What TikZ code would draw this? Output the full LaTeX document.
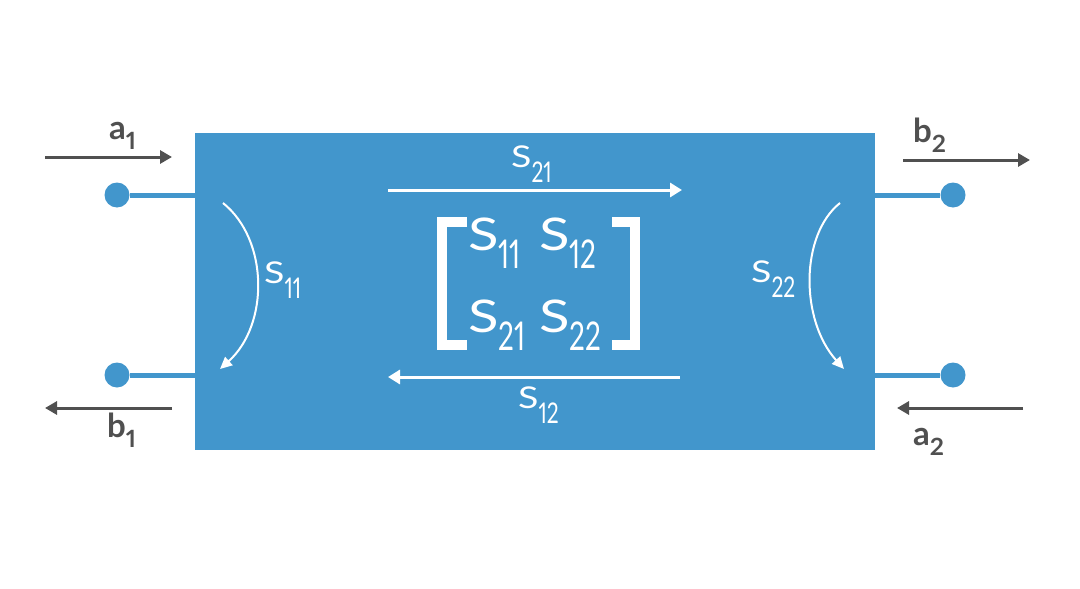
\documentclass[tikz,border=0pt]{standalone}
\usepackage{fontspec}
\setmainfont[Numbers=Proportional]{Lato}
\usetikzlibrary{arrows.meta}

\definecolor{portblue}{HTML}{4296CC}
\definecolor{wavegray}{HTML}{505050}

% subscript as the picture sets it: large, narrow and low
\newcommand{\subdrop}{-0.4em}
\newcommand{\subx}{0.7}
\newcommand{\suby}{0.85}
\newcommand{\sub}[1]{\raisebox{\subdrop}{\scalebox{\subx}[\suby]{#1}}}
\newcommand{\spar}[1]{\scalebox{1.25}[1]{S}\sub{#1}}

\tikzset{
	port/.style={circle, fill=portblue, inner sep=0pt, minimum size=25pt},
	lead/.style={portblue, line width=5pt},
	wave/.style={wavegray, line width=3pt, -{Triangle[length=12pt, width=13pt]}},
	flow/.style={white, line width=3pt, -{Triangle[length=12pt, width=14pt]}},
	reflarc/.style={white, line width=2pt, -{Triangle[length=12pt, width=11pt]}},
	wavelabel/.style={wavegray, inner sep=0pt, anchor=base west,
		font=\fontsize{33}{36}\selectfont\bfseries\def\subdrop{-0.33em}\def\subx{0.75}\def\suby{0.72}},
	slabel/.style={white, inner sep=0pt, anchor=base west,
		font=\fontsize{30}{34}\selectfont\def\subdrop{-0.52em}\def\subx{0.7}\def\suby{0.95}},
	mlabel/.style={white, inner sep=0pt, anchor=base west,
		font=\fontsize{45}{50}\selectfont\def\subdrop{-0.4em}\def\subx{0.62}\def\suby{0.88}},
	bracket/.style={white, line width=10pt, miter limit=10}
}

\begin{document}
\begin{tikzpicture}[x=1pt, y=-1pt]
	\useasboundingbox (0, 0) rectangle (1080, 589);

	% two-port box
	\node[fill=portblue, minimum width=680pt, minimum height=317pt, inner sep=0pt] (net) at (535, 291.5) {};

	% ports 1 and 2
	\node[port] (p1t) at (117, 195) {};
	\node[port] (p1b) at (117, 375) {};
	\node[port] (p2t) at (953, 195) {};
	\node[port] (p2b) at (953, 375) {};
	\draw[lead] (p1t) -- (p1t -| net.west);
	\draw[lead] (p1b) -- (p1b -| net.west);
	\draw[lead] (p2t) -- (p2t -| net.east);
	\draw[lead] (p2b) -- (p2b -| net.east);

	% incident and reflected waves
	\coordinate (a1s) at (45, 157);
	\coordinate (a1e) at (172, 157);
	\coordinate (b1s) at (172, 408);
	\coordinate (b1e) at (45, 408);
	\coordinate (b2s) at (903, 160);
	\coordinate (b2e) at (1030, 160);
	\coordinate (a2s) at (1023, 408);
	\coordinate (a2e) at (897, 408);
	\draw[wave] (a1s) -- (a1e);
	\draw[wave] (b1s) -- (b1e);
	\draw[wave] (b2s) -- (b2e);
	\draw[wave] (a2s) -- (a2e);
	\node[wavelabel] (la1) at (109, 139) {a\sub{1}};
	\node[wavelabel] (lb1) at (107, 437) {b\sub{1}};
	\node[wavelabel] (lb2) at (913, 142) {b\sub{2}};
	\node[wavelabel] (la2) at (913, 445) {a\sub{2}};

	% transmission
	\coordinate (s21s) at (388, 190);
	\coordinate (s21e) at (682, 190);
	\coordinate (s12s) at (680, 377);
	\coordinate (s12e) at (388, 377);
	\draw[flow] (s21s) -- (s21e);
	\draw[flow] (s12s) -- (s12e);
	\node[slabel] (ls21) at (511, 167) {\spar{21}};
	\node[slabel] (ls12) at (518, 408) {\spar{12}};

	% reflection
	\coordinate (s11s) at (223, 203);
	\coordinate (s11e) at (220, 369);
	\coordinate (s22s) at (840, 203);
	\coordinate (s22e) at (844, 369);
	\draw[reflarc] (s11s) .. controls (269, 240) and (269, 325) .. (s11e);
	\draw[reflarc] (s22s) .. controls (800, 235) and (800, 320) .. (s22e);
	\node[slabel] (ls11) at (264, 283) {\spar{11}};
	\node[slabel] (ls22) at (751, 282) {\spar{22}};

	% matrix
	\draw[bracket] (467, 222) -- (442, 222) -- (442, 345) -- (467, 345);
	\draw[bracket] (612, 222) -- (635, 222) -- (635, 345) -- (612, 345);
	\node[mlabel] (m11) at (468, 250) {\spar{11}};
	\node[mlabel] (m12) at (539, 250) {\spar{12}};
	\node[mlabel] (m21) at (468, 332) {\spar{21}};
	\node[mlabel] (m22) at (539, 332) {\spar{22}};
\end{tikzpicture}
\end{document}
